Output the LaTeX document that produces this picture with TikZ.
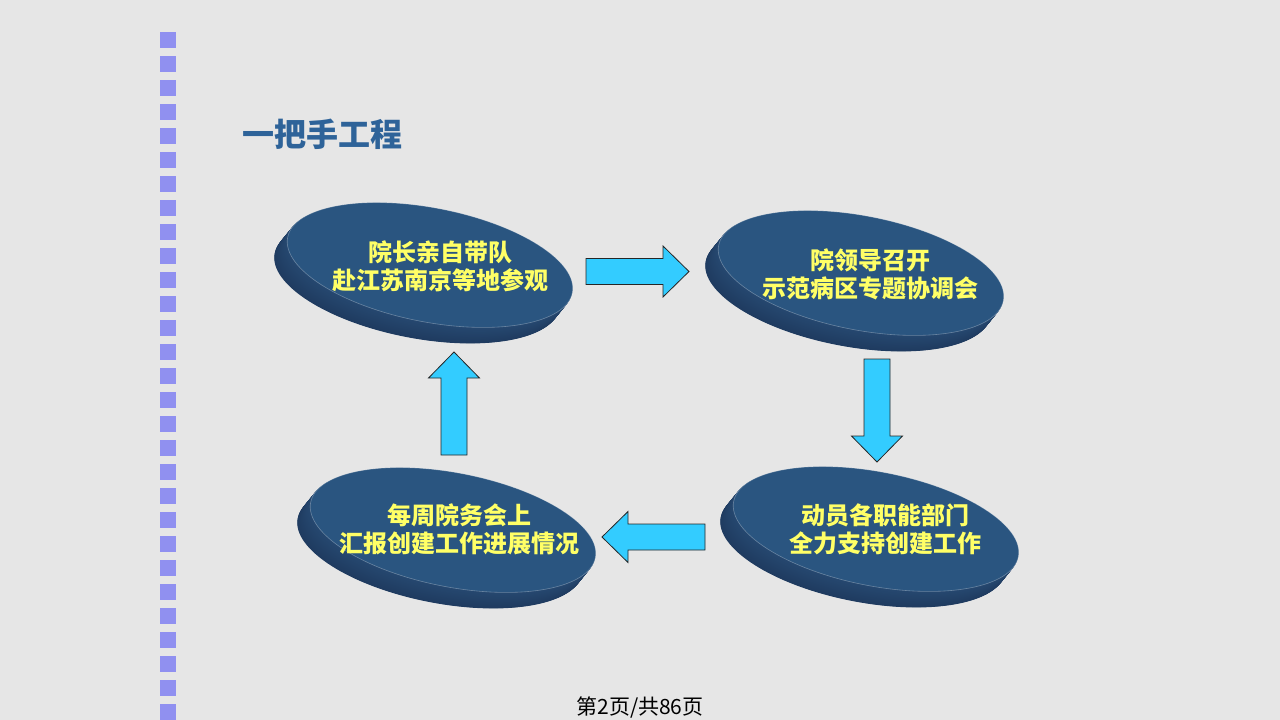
\documentclass[tikz,border=0pt]{standalone}
\usepackage{fontspec}
\newfontfamily\cjk{Noto Sans CJK SC}
\usepackage{tikz}
\usetikzlibrary{calc}

\definecolor{pagebg}{RGB}{230,230,230}
\definecolor{squarecol}{RGB}{144,144,240}
\definecolor{titleblue}{RGB}{46,99,153}
\definecolor{disktop}{RGB}{42,85,128}
\definecolor{sidelight}{RGB}{38,72,112}
\definecolor{sidedark}{RGB}{29,56,92}
\definecolor{arrowfill}{RGB}{51,204,255}
\definecolor{textyellow}{RGB}{255,255,102}

\begin{document}
\begin{tikzpicture}[x=1pt,y=-1pt,
  disktext/.style={font=\cjk\bfseries\fontsize{24}{28}\selectfont, text=textyellow, align=center},
  blockarrow/.style={fill=arrowfill, draw=black!85, line width=0.8pt, line join=miter}]
% Page and margins
\useasboundingbox (0,0) rectangle (1280,720);
\fill[pagebg] (0,0) rectangle (1280,720);

% Squares down the left side
\foreach \i in {0,...,28} {
  \fill[squarecol] (160,32+24*\i) rectangle ++(16,16);
}

% Title
\node[anchor=west, inner sep=0pt, font=\cjk\bfseries\fontsize{32}{36}\selectfont, text=titleblue] (title) at (242,134) {一把手工程};

% Disks (side layers, then top face)
\foreach \cx/\cy in {430/265, 861/273, 453/530, 876/529} {
  \foreach \k in {40,...,1} {
    \pgfmathtruncatemacro{\mix}{100-2*\k}
    \fill[sidelight!\mix!sidedark, rotate around={-11:({\cx-0.325*\k},{\cy+0.4*\k})}]
      ({\cx-0.325*\k},{\cy+0.4*\k}) ellipse [x radius=145pt, y radius=57pt];
  }
  \fill[disktop, rotate around={-11:(\cx,\cy)}] (\cx,\cy) ellipse [x radius=145pt, y radius=57pt];
  \draw[white, opacity=0.3, line width=0.6pt, rotate around={-11:(\cx,\cy)}] (\cx,\cy) ellipse [x radius=145pt, y radius=57pt];
}

% Disk texts
\node[disktext] (visit) at (440,266) {院长亲自带队\\赴江苏南京等地参观};
\node[disktext] (meeting) at (870,274) {院领导召开\\示范病区专题协调会};
\node[disktext] (mobilize) at (885,529) {动员各职能部门\\全力支持创建工作};
\node[disktext] (report) at (459,529) {每周院务会上\\汇报创建工作进展情况};

% Block arrows
\foreach \ax/\ay/\ang in {586/271.5/0, 877/359/-90, 705/537/180, 454/455/90} {
  \draw[blockarrow, shift={(\ax,\ay)}, rotate=\ang]
    (0,-13) -- (77,-13) -- (77,-25.5) -- (103,0) -- (77,25.5) -- (77,13) -- (0,13) -- cycle;
}

% Page number
\node[font=\cjk\fontsize{21}{24}\selectfont] (pagenum) at (640,707) {第2页/共86页};

\end{tikzpicture}
\end{document}
